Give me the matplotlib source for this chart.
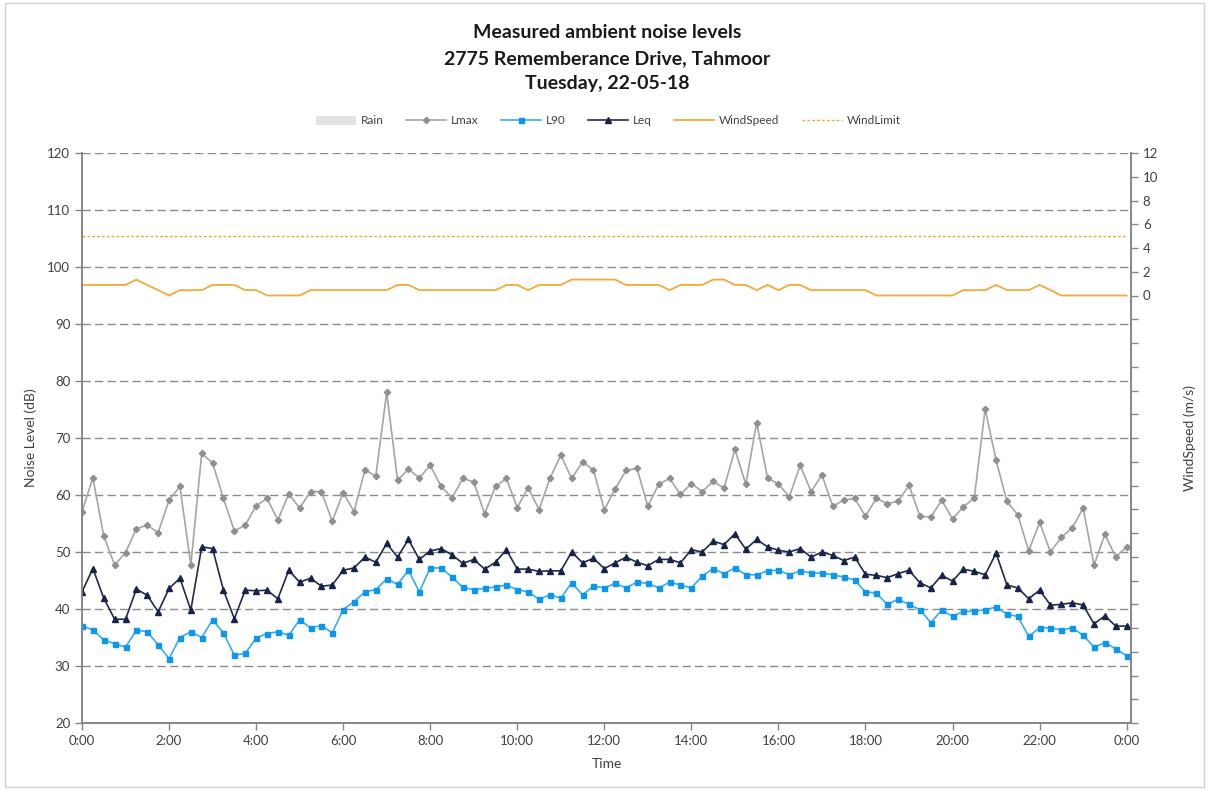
import numpy as np
import matplotlib
matplotlib.use('Agg')
from matplotlib import pyplot as plt
from matplotlib.patches import Rectangle
from matplotlib.ticker import FuncFormatter, MultipleLocator

plt.rcParams['font.family'] = ['Lato', 'DejaVu Sans']

# 15-minute intervals, 0:00 to 0:00 next day (hours)
hours = np.arange(97) * 0.25

lmax = [57.1, 63.0, 52.8, 47.7, 49.9, 54.1, 54.7, 53.4, 59.1, 61.5,
        47.7, 67.3, 65.6, 59.4, 53.7, 54.7, 58.1, 59.4, 55.6, 60.2,
        57.7, 60.6, 60.6, 55.4, 60.4, 57.1, 64.4, 63.3, 78.0, 62.6,
        64.5, 63.0, 65.2, 61.5, 59.5, 62.9, 62.3, 56.7, 61.5, 62.9,
        57.8, 61.3, 57.4, 62.9, 67.0, 62.9, 65.8, 64.4, 57.4, 61.1,
        64.3, 64.7, 58.0, 61.9, 62.9, 60.1, 62.0, 60.6, 62.4, 61.2,
        68.0, 61.9, 72.7, 63.0, 61.9, 59.7, 65.2, 60.6, 63.5, 58.0,
        59.1, 59.4, 56.3, 59.4, 58.5, 58.9, 61.7, 56.3, 56.1, 59.1,
        55.8, 57.9, 59.5, 75.1, 66.1, 58.9, 56.5, 50.2, 55.2, 50.0,
        52.6, 54.2, 57.7, 47.7, 53.1, 49.1, 50.9]

leq = [43.0, 47.1, 41.9, 38.2, 38.2, 43.5, 42.4, 39.5, 43.6, 45.4,
       39.8, 50.9, 50.6, 43.3, 38.3, 43.3, 43.2, 43.3, 41.8, 46.8,
       44.7, 45.4, 44.0, 44.2, 46.8, 47.2, 49.1, 48.2, 51.5, 49.1,
       52.2, 48.7, 50.2, 50.6, 49.5, 48.0, 48.7, 47.0, 48.2, 50.4,
       47.0, 47.0, 46.6, 46.7, 46.7, 50.0, 48.1, 48.9, 47.1, 48.1,
       49.1, 48.2, 47.6, 48.7, 48.7, 48.1, 50.4, 50.0, 51.9, 51.3,
       53.2, 50.5, 52.2, 50.9, 50.3, 50.0, 50.6, 49.1, 50.0, 49.4,
       48.5, 49.1, 46.1, 45.9, 45.5, 46.2, 46.8, 44.6, 43.7, 45.9,
       44.9, 47.0, 46.6, 46.0, 49.8, 44.2, 43.7, 41.8, 43.3, 40.7,
       40.8, 41.1, 40.7, 37.4, 38.8, 37.0, 37.0]

l90 = [37.1, 36.3, 34.6, 33.9, 33.3, 36.3, 36.0, 33.7, 31.3, 35.0,
       36.0, 35.0, 38.1, 35.8, 31.9, 32.2, 34.9, 35.7, 36.0, 35.4,
       38.1, 36.7, 37.1, 35.8, 39.9, 41.3, 43.0, 43.4, 45.3, 44.3,
       46.8, 43.0, 47.2, 47.2, 45.6, 43.8, 43.4, 43.6, 43.9, 44.2,
       43.4, 43.0, 41.7, 42.5, 41.9, 44.6, 42.5, 44.0, 43.7, 44.5,
       43.7, 44.7, 44.5, 43.7, 44.7, 44.2, 43.7, 45.8, 47.1, 46.2,
       47.2, 46.0, 46.0, 46.7, 46.8, 46.0, 46.7, 46.3, 46.3, 46.0,
       45.6, 45.1, 43.0, 42.8, 40.8, 41.7, 40.8, 39.9, 37.6, 39.8,
       38.7, 39.6, 39.6, 39.9, 40.3, 39.1, 38.7, 35.2, 36.7, 36.7,
       36.3, 36.7, 35.4, 33.3, 34.1, 33.0, 31.8]

# wind speed (m/s)
wind = ([0.89] * 5 + [1.34, 0.89, 0.45, 0.0] + [0.45] * 3 + [0.89] * 3 +
        [0.45] * 2 + [0.0] * 4 + [0.45] * 8 + [0.89] * 2 + [0.45] * 8 +
        [0.89] * 2 + [0.45] + [0.89] * 3 + [1.34] * 5 + [0.89] * 4 +
        [0.45] + [0.89] * 3 + [1.34] * 2 + [0.89] * 2 + [0.45, 0.89, 0.45] +
        [0.89] * 2 + [0.45] * 6 + [0.0] * 8 + [0.45] * 3 + [0.89] +
        [0.45] * 3 + [0.89, 0.45] + [0.0] * 7)
wind_limit = [5.0] * 97
rain = [0.0] * 97

title_lines = ['Measured ambient noise levels',
               '2775 Rememberance Drive, Tahmoor',
               'Tuesday, 22-05-18']

fig = plt.figure(figsize=(12.09, 7.90), dpi=100)
fig.patches.append(Rectangle((0.004, 0.004), 0.992, 0.992, transform=fig.transFigure,
                             fill=False, edgecolor='#d0d0d0', lw=1))
ax = fig.add_axes([82 / 1209, 1 - 723 / 790, (1131 - 82) / 1209, (723 - 153) / 790])
ax2 = ax.twinx()

axis_grey = '#868686'
ax.set_ylim(20, 120)
ax.set_xlim(0, 24.1)
ax.yaxis.set_major_locator(MultipleLocator(10))
ax.xaxis.set_major_locator(MultipleLocator(2))
ax.xaxis.set_major_formatter(FuncFormatter(lambda v, p: '%d:00' % (int(round(v)) % 24)))
ax.grid(axis='y', color='#8c8c8c', linestyle=(0, (6, 3)), lw=1.0)
ax.set_axisbelow(True)

ax.plot(hours, lmax, color='#a5a5a5', lw=1.2, marker='D', ms=3.2,
        mfc='#8f8f8f', mec='#8f8f8f', label='Lmax', zorder=3)
ax.plot(hours, l90, color='#3aaaf0', lw=1.2, marker='s', ms=3.6,
        mfc='#0b97ee', mec='#0b97ee', label='L90', zorder=3)
ax.plot(hours, leq, color='#1f2b4d', lw=1.2, marker='^', ms=4.6,
        mfc='#16234a', mec='#16234a', label='Leq', zorder=4)

ax2.bar(hours, rain, width=0.25, color='#e3e3e3', label='Rain', zorder=1)
ax2.plot(hours, wind, color='#f4a939', lw=1.3, label='WindSpeed')
ax2.plot(hours, wind_limit, color='#f0a53c', lw=1.0, linestyle=(0, (2, 1.5)),
         label='WindLimit')
ax2.set_ylim(-36, 12)
ax2.yaxis.set_major_locator(MultipleLocator(2))
ax2.yaxis.set_major_formatter(FuncFormatter(lambda v, p: '%d' % v if v >= 0 else ''))

for a in (ax, ax2):
    a.spines['top'].set_visible(False)
    for s in ('left', 'right', 'bottom'):
        a.spines[s].set_color(axis_grey)
        a.spines[s].set_linewidth(1.2)
ax.tick_params(axis='both', colors=axis_grey, labelcolor='#404040', labelsize=9.5,
               length=5, width=1)
ax2.tick_params(axis='y', colors=axis_grey, labelcolor='#404040', labelsize=9.5,
                length=5, width=1)

ax.set_ylabel('Noise Level (dB)', fontsize=10, color='#404040')
ax.yaxis.set_label_coords((37 - 82) / 1049, 0.5)
ax2.set_ylabel('WindSpeed (m/s)', fontsize=10, color='#404040')
ax2.yaxis.set_label_coords(1 + (1183 - 1131) / 1049, 0.5)
ax.set_xlabel('Time', fontsize=10, color='#404040', labelpad=8)

for i, t in enumerate(title_lines):
    fig.text(0.5025, 1 - (33 + 25.5 * i) / 790, t, ha='center', va='center',
             fontsize=14, fontweight='bold', color='#1a1a1a')

h1, l1 = ax.get_legend_handles_labels()
h2, l2 = ax2.get_legend_handles_labels()
handles = dict(zip(l1 + l2, h1 + h2))
order = ['Rain', 'Lmax', 'L90', 'Leq', 'WindSpeed', 'WindLimit']
fig.legend([handles[k] for k in order], order, loc='center',
           bbox_to_anchor=(0.503, 1 - 121 / 790), ncol=6, frameon=False,
           fontsize=8.5, handlelength=3.4, columnspacing=1.9, handletextpad=0.4,
           labelcolor='#404040')

fig.savefig('out.png', dpi=100)
